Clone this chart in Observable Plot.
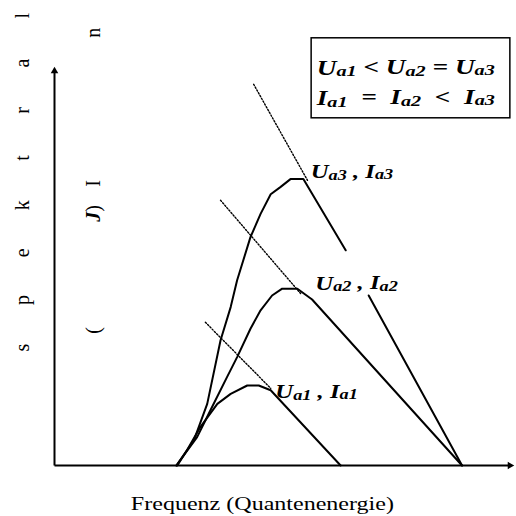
<!DOCTYPE html>
<html>
<head>
<meta charset="utf-8">
<script src="https://cdn.jsdelivr.net/npm/d3@7"></script>
<script src="https://cdn.jsdelivr.net/npm/@observablehq/plot@0.6"></script>
<style>
  html, body { margin: 0; padding: 0; background: #fff; }
  #chart svg { display: block; }
</style>
</head>
<body>
<div id="chart"></div>
<script>
// Bremsstrahlung spectra for three tube settings (arbitrary units).
// Frequency runs 0..100 along x, spectral intensity 0..100 along y.

// Spectrum 1: U_a1, I_a1
const spec1F = [26.7, 28.8, 31.7, 35.4, 38.3, 41.9, 44.4, 47.0, 62.2];
const spec1I = [0, 3.8, 9.6, 15.4, 17.9, 20.0, 20.0, 18.8, 0];

// Spectrum 2: U_a2, I_a2
const spec2F = [26.5, 31.0, 33.9, 37.5, 39.7, 42.6, 44.8, 47.3, 49.5, 52.8, 56.0, 88.6];
const spec2I = [0, 7.1, 13.8, 22.1, 27.1, 34.2, 38.8, 42.5, 44.2, 44.2, 41.5, 0];

// Spectrum 3: U_a3, I_a3 (drawn to its cut-off, tail shown separately)
const spec3F = [26.5, 30.3, 33.2, 36.1, 38.3, 39.7, 42.6, 44.8, 47.0, 49.1, 51.3, 54.1, 63.3];
const spec3I = [0, 6.3, 15.4, 31.3, 39.6, 46.3, 57.1, 62.9, 67.8, 69.6, 71.6, 71.6, 53.8];
const tail3F = [68.3, 88.6];
const tail3I = [42.5, 0];

// Dotted extrapolations of the falling edges
const guide1F = [32.8, 47.0];
const guide1I = [35.8, 19.3];
const guide2F = [36.1, 53.5];
const guide2I = [66.3, 43.0];
const guide3F = [43.3, 55.0];
const guide3I = [95.3, 71.3];

// Curve labels ({..} = subscript)
const curveLabels = ["U{a1} , I{a1}", "U{a2} , I{a2}", "U{a3} , I{a3}"];
const labelF = [48.0, 56.7, 55.7];
const labelI = [18.3, 45.4, 73.3];

// Relation box text
const relationLines = ["U{a1} < U{a2} = U{a3}", "I{a1}  =  I{a2}  <  I{a3}"];

// Axis titles ([..] = bold italic)
const xTitle = "Frequenz (Quantenenergie)";
const yTitleOuter = ["s", "p", "e", "k", "t", "r", "a", "l"];
const yTitleInner = ["(", "[J])", "I", "n"];

// ---- layout ----
const SERIF = "'Liberation Serif', 'Times New Roman', serif";
const STRETCH = 1.3; // wide set type
const toPts = (fs, is, key) => fs.map((f, i) => ({f, I: is[i], key}));

const curves = [
  ...toPts(spec1F, spec1I, "1"),
  ...toPts(spec2F, spec2I, "2"),
  ...toPts(spec3F, spec3I, "3"),
  ...toPts(tail3F, tail3I, "3t")
];
const guides = [
  ...toPts(guide1F, guide1I, "g1"),
  ...toPts(guide2F, guide2I, "g2"),
  ...toPts(guide3F, guide3I, "g3")
];
const labels = curveLabels.map((t, i) => ({t, f: labelF[i], I: labelI[i]}));

// relation box extents, in chart units
const box = {x1: 55.9, x2: 99.1, y1: 86.8, y2: 106.8};
const relRows = relationLines.map((t, i) => ({t, f: 57.0, I: [99.4, 91.8][i]}));

// rotated axis title glyphs
const outerRows = yTitleOuter.map((t, i) => ({t, f: -7.0, I: 29.5 + i * 11.85}));
const innerPos = [33.8, 63.0, 70.5, 108.2];
const innerRows = yTitleInner.map((t, i) => ({t, f: 8.5, I: innerPos[i]}));

const chart = Plot.plot({
  width: 516,
  height: 516,
  margin: 0,
  x: {domain: [0, 100], range: [54, 514], axis: null},
  y: {domain: [0, 100], range: [465, 65], axis: null},
  marks: [
    // axes with filled arrowheads
    Plot.link([{x1: 0, y1: 0, x2: 98.6, y2: 0}], {x1: "x1", y1: "y1", x2: "x2", y2: "y2", stroke: "black", strokeWidth: 2}),
    Plot.link([{x1: 0, y1: 0, x2: 0, y2: 98.5}], {x1: "x1", y1: "y1", x2: "x2", y2: "y2", stroke: "black", strokeWidth: 2}),
    Plot.dot([{x: 99.0, y: 0}], {x: "x", y: "y", symbol: "triangle2", r: 3.6, fill: "black", rotate: 90}),
    Plot.dot([{x: 0, y: 98.6}], {x: "x", y: "y", symbol: "triangle2", r: 3.6, fill: "black"}),
    // dotted extrapolations
    Plot.line(guides, {x: "f", y: "I", z: "key", stroke: "black", strokeWidth: 1.4, strokeDasharray: "1.4 1.8"}),
    // spectra
    Plot.line(curves, {x: "f", y: "I", z: "key", stroke: "black", strokeWidth: 2, strokeLinejoin: "round"}),
    // curve labels
    Plot.text(labels, {x: "f", y: "I", text: "t", textAnchor: "start", fontSize: 19, fontWeight: "bold", fontStyle: "italic", fontFamily: SERIF, fill: "black", className: "wide"}),
    // relation box
    Plot.rect([box], {x1: "x1", x2: "x2", y1: "y1", y2: "y2", fill: "white", stroke: "black", strokeWidth: 1.5}),
    Plot.text(relRows, {x: "f", y: "I", text: "t", textAnchor: "start", fontSize: 21, fontWeight: "bold", fontStyle: "italic", fontFamily: SERIF, fill: "black", className: "wide"}),
    // axis titles
    Plot.text([{t: xTitle, f: 45.2, I: -9.6}], {x: "f", y: "I", text: "t", fontSize: 18.5, fontFamily: SERIF, fill: "black", className: "wide"}),
    Plot.text(outerRows, {x: "f", y: "I", text: "t", rotate: -90, fontSize: 20, fontFamily: SERIF, fill: "black"}),
    Plot.text(innerRows, {x: "f", y: "I", text: "t", rotate: -90, fontSize: 20, fontFamily: SERIF, fill: "black"})
  ]
});

const root = d3.select(chart);

// turn {..} markup into subscript tspans and [..] into bold italic tspans
root.selectAll("text").each(function () {
  const el = d3.select(this);
  const s = el.text();
  if (!/[{\[]/.test(s)) return;
  el.text("").style("white-space", "pre");
  const parts = s.split(/(\{[^}]*\}|\[[^\]]*\])/).filter(p => p.length);
  let lowered = false;
  for (const p of parts) {
    if (p.startsWith("{")) {
      el.append("tspan").attr("font-size", "0.74em").attr("dy", lowered ? null : "0.1em").text(p.slice(1, -1));
      lowered = true;
    } else if (p.startsWith("[")) {
      el.append("tspan").attr("font-weight", "bold").attr("font-style", "italic").text(p.slice(1, -1));
    } else {
      el.append("tspan").attr("dy", lowered ? "-0.1em" : null).text(p);
      lowered = false;
    }
  }
});

// widen the horizontal type about each text's own anchor
root.selectAll(".wide text").each(function () {
  const el = d3.select(this);
  const x = +el.attr("x") || 0, y = +el.attr("y") || 0;
  const t = el.attr("transform") || "";
  el.attr("transform", `${t} translate(${x},${y}) scale(${STRETCH},1) translate(${-x},${-y})`);
});

document.getElementById("chart").append(chart);
</script>
</body>
</html>
